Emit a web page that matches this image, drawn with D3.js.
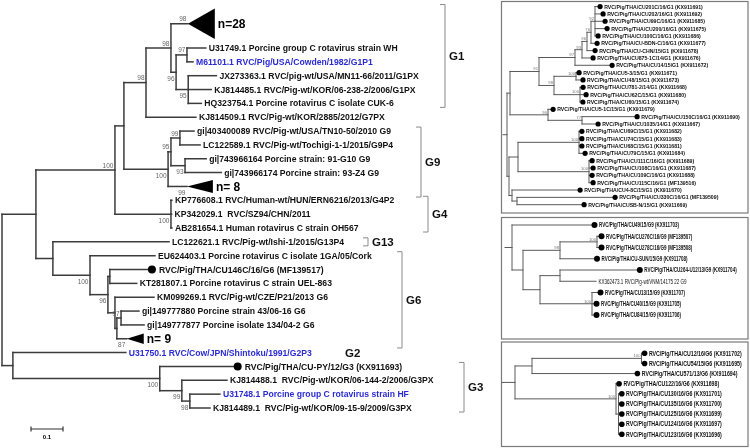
<!DOCTYPE html>
<html><head><meta charset="utf-8">
<script src="https://cdn.jsdelivr.net/npm/d3@7"></script>
<style>
body{margin:0;background:#fff}
svg{display:block;will-change:transform;opacity:0.999}
text{white-space:pre}
</style></head><body>
<svg id="c" width="750" height="448"></svg>
<script>
// ================= DATA =================
// Main tree: [node, parent, branch length (substitutions/site)]
const mainTree = [
["root","",0],
["a1","root",0.106],
["a2","a1",0.247],
["a3","a2",0.028],
["g1a","a3",0.069],
["g1b","g1a",0.078],
["c28","g1b",0.053],
["g1c","g1b",0.016],
["g1d","g1c",0.034],
["U31749","g1d",0.059],
["M61101","g1d",0.019],
["g1e","g1c",0.038],
["JX273363","g1e",0.088],
["KJ814485","g1e",0.072],
["HQ323754","g1e",0.041],
["KJ814509","g1a",0.156],
["g9a","a3",0.138],
["g9b","g9a",0.009],
["g9c","g9b",0.028],
["gi403400089","g9c",0.044],
["LC122589","g9c",0.063],
["g9d","g9b",0.044],
["gi743966164","g9d",0.066],
["gi743966174","g9d",0.113],
["c8","g9a",0.059],
["g4a","a2",0.175],
["KP776608","g4a",0.003],
["KP342029","g4a",0.002],
["AB281654","g4a",0.003],
["b1","a1",0.053],
["LC122621","b1",0.363],
["g6a","b1",0.116],
["EU624403","g6a",0.203],
["g6b","g6a",0.056],
["g6c","g6b",0.006],
["CU146C","g6c",0.119],
["KT281807","g6c",0.084],
["g6d","g6b",0.022],
["KM099269","g6d",0.122],
["g6e","g6d",0.006],
["g6f","g6e",0.013],
["gi149777880","g6f",0.056],
["gi149777877","g6f",0.072],
["c9","g6e",0.031],
["d1","root",0.034],
["U31750","d1",0.353],
["g3a","d1",0.459],
["CUPY","g3a",0.231],
["g3b","g3a",0.069],
["KJ814488","g3b",0.141],
["g3c","g3b",0.025],
["U31748","g3c",0.094],
["KJ814489","g3c",0.063]
];
const mainLeafOrder = ["c28","U31749","M61101","JX273363","KJ814485","HQ323754","KJ814509",
"gi403400089","LC122589","gi743966164","gi743966174","c8","KP776608","KP342029","AB281654",
"LC122621","EU624403","CU146C","KT281807","KM099269","gi149777880","gi149777877","c9",
"U31750","CUPY","KJ814488","U31748","KJ814489"];
const mainLeafSlots = [-1.75,0,1,2,3,4,5,6,7,8,9,10,11,12,13,14,15,16,17,18,19,20,21,22,23,24,25,26];
const mainLeafNames = [
["U31749","U31749.1 Porcine group C rotavirus strain WH"],
["M61101","M61101.1 RVC/Pig/USA/Cowden/1982/G1P1"],
["JX273363","JX273363.1 RVC/pig-wt/USA/MN11-66/2011/G1PX"],
["KJ814485","KJ814485.1 RVC/Pig-wt/KOR/06-238-2/2006/G1PX"],
["HQ323754","HQ323754.1 Porcine rotavirus C isolate CUK-6"],
["KJ814509","KJ814509.1 RVC/Pig-wt/KOR/2885/2012/G7PX"],
["gi403400089","gi|403400089 RVC/Pig-wt/USA/TN10-50/2010 G9"],
["LC122589","LC122589.1 RVC/Pig-wt/Tochigi-1-1/2015/G9P4"],
["gi743966164","gi|743966164 Porcine strain: 91-G10 G9"],
["gi743966174","gi|743966174 Porcine strain: 93-Z4 G9"],
["KP776608","KP776608.1 RVC/Human-wt/HUN/ERN6216/2013/G4P2"],
["KP342029","KP342029.1  RVC/SZ94/CHN/2011"],
["AB281654","AB281654.1 Human rotavirus C strain OH567"],
["LC122621","LC122621.1 RVC/Pig-wt/Ishi-1/2015/G13P4"],
["EU624403","EU624403.1 Porcine rotavirus C isolate 1GA/05/Cork"],
["CU146C","RVC/Pig/THA/CU146C/16/G6 (MF139517)"],
["KT281807","KT281807.1 Porcine rotavirus C strain UEL-863"],
["KM099269","KM099269.1 RVC/Pig-wt/CZE/P21/2013 G6"],
["gi149777880","gi|149777880 Porcine strain 43/06-16 G6"],
["gi149777877","gi|149777877 Porcine isolate 134/04-2 G6"],
["U31750","U31750.1 RVC/Cow/JPN/Shintoku/1991/G2P3"],
["CUPY","RVC/Pig/THA/CU-PY/12/G3 (KX911693)"],
["KJ814488","KJ814488.1  RVC/Pig-wt/KOR/06-144-2/2006/G3PX"],
["U31748","U31748.1 Porcine group C rotavirus strain HF"],
["KJ814489","KJ814489.1  RVC/Pig-wt/KOR/09-15-9/2009/G3PX"]
];
const mainReferenceStrains = ["M61101","U31750","U31748"];
const mainStudyStrains = ["CU146C","CUPY"];
// collapsed clades: [node, number of sequences, clade depth, span in rows]
const mainCollapsed = [["c28",28,0.084,2.2],["c8",8,0.081,0.95],["c9",9,0.053,0.75]];
const mainSupport = [["c28",98],["g1b",98],["g1a",98],["g1d",97],["g1c",96],["g1e",95],
["g9c",99],["g9b",95],["g9d",93],["g9a",100],["c8",99],["a2",100],["g4a",100],
["g6a",100],["g6b",96],["g6f",97],["c9",87],["g3a",100],["g3b",99],["g3c",98]];
const mainSupportBelow = ["g1c","g1e","g9d","g9a","c8","g4a","g6a","g6b","c9","g3a","g3b","g3c"];
// genotype groups: [name, first member, last member]
const genotypeGroups = [["G1","c28","HQ323754"],["G9","gi403400089","c8"],["G4","KP776608","AB281654"],
["G13","LC122621","LC122621"],["G6","EU624403","c9"],["G3","CUPY","KJ814489"]];
const scaleBarValue = 0.1;

// Panel 1 (G1 Thai strains)
const p1Tree = [
["r","",0],["x","r",0.003],["n91","x",0.029],["n97","n91",0.036],["n93","n97",0.007],
["n96","n93",0.005],["n76","n96",0.004],["n92","n76",0.004],
["CU201C","n92",0.0025],["CU202","n92",0.0055],["CU99C","n92",0.0075],["CU200","n92",0.0095],["CU100C","n92",0.0005],
["CUBDNC","n76",0.0035],["CUCHN","n96",0.0055],["CU875","n93",0.0085],["CU14","n97",0.0345],
["n98","n91",0.015],["n100a","n98",0.022],["CU53","n100a",0.0005],["CU48","n100a",0.0044],
["n100b","n98",0.026],["CU781","n100b",0.0005],["CU62C","n100b",0.0035],["CU60","n100b",0.0003],
["n90","x",0.038],["CU51C","n90",0.0025],["n77","n90",0.034],["CU150C","n77",0.0525],["CU1035","n77",0.0135],
["y","r",0.002],["c","y",0.009],["n100c","c",0.061],["CU69C","n100c",0.0003],["CU74C","n100c",0.0003],
["CU68C","n100c",0.0003],["CU79C","n100c",0.0035],["n100d","c",0.071],["CU111C","n100d",0.0005],
["CU108C","n100d",0.0015],["CU109C","n100d",0.0005],["CU115C","n100d",0.0015],
["s","y",0.003],["CU48C","s",0.0655],["n517","s",0.005],["CU330C","n517",0.0955],["CUSBN","n517",0.0645]
];
const p1LeafOrder = ["CU201C","CU202","CU99C","CU200","CU100C","CUBDNC","CUCHN","CU875","CU14","CU53","CU48",
"CU781","CU62C","CU60","CU51C","CU150C","CU1035","CU69C","CU74C","CU68C","CU79C","CU111C","CU108C","CU109C",
"CU115C","CU48C","CU330C","CUSBN"];
const p1LeafNames = [
"RVC/Pig/THA/CU201C/16/G1 (KX911691)","RVC/Pig/THA/CU202/16/G1 (KX911692)","RVC/Pig/THA/CU99C/16/G1 (KX911685)",
"RVC/Pig/THA/CU200/16/G1 (KX911675)","RVC/Pig/THA/CU100C/16/G1 (KX911686)","RVC/Pig/THA/CU-BDN-C/16/G1 (KX911677)",
"RVC/Pig/THA/CU-CHN/15/G1 (KX911678)","RVC/Pig/THA/CU875-1C/14/G1 (KX911676)","RVC/Pig/THA/CU14/15/G1 (KX911672)",
"RVC/Pig/THA/CU5-3/15/G1 (KX911671)","RVC/Pig/THA/CU48/15/G1 (KX911673)","RVC/Pig/THA/CU781-2/14/G1 (KX911668)",
"RVC/Pig/THA/CU62C/15/G1 (KX911680)","RVC/Pig/THA/CU60/15/G1 (KX911674)","RVC/Pig/THA/CU5-1C/15/G1 (KX911679)",
"RVC/Pig/THA/CU150C/16/G1 (KX911690)","RVC/Pig/THA/CU1035/14/G1 (KX911667)","RVC/Pig/THA/CU69C/15/G1 (KX911682)",
"RVC/Pig/THA/CU74C/15/G1 (KX911683)","RVC/Pig/THA/CU68C/15/G1 (KX911681)","RVC/Pig/THA/CU79C/15/G1 (KX911684)",
"RVC/Pig/THA/CU111C/16/G1 (KX911689)","RVC/Pig/THA/CU108C/16/G1 (KX911687)","RVC/Pig/THA/CU109C/16/G1 (KX911688)",
"RVC/Pig/THA/CU115C/16/G1 (MF139516)","RVC/Pig/THA/CU4-8C/15/G1 (KX911670)","RVC/Pig/THA/CU330C/16/G1 (MF139509)",
"RVC/Pig/THA/CUSB-N/15/G1 (KX911669)"];
const p1Support = [["n92",92],["n76",76],["n96",96],["n93",93],["n97",97],["n91",91],["n100a",100],["n98",98],
["n100b",100],["n90",90],["n77",77],["n100c",100],["n100d",100]];

// Panel 2 (G9 Thai strains)
const p2Tree = [
["r","",0],["CU49","r",0.0795],["n2a","r",0.011],["p","n2a",0.037],["n100e","p",0.037],
["CU276C","n100e",0.0015],["CU278C","n100e",0.0015],["CUSUN","p",0.034],["q","n2a",0.017],
["rr","q",0.020],["CU264","rr",0.0768],["KX362473","rr",0.036],["t","q",0.052],
["CU13","t",0.0055],["CU40","t",0.0015],["CU84","t",0.0015]
];
const p2LeafOrder = ["CU49","CU276C","CU278C","CUSUN","CU264","KX362473","CU13","CU40","CU84"];
const p2LeafNames = ["RVC/Pig/THA/CU49/15/G9 (KX911703)","RVC/Pig/THA/CU276C/16/G9 (MF139507)",
"RVC/Pig/THA/CU278C/16/G9 (MF139508)","RVC/Pig/THA/CU-SUN/15/G9 (KX911708)","RVC/Pig/THA/CU264-U12/13/G9 (KX911704)",
"KX362473.1 RVC/Pig-wt/VNM/14175 22 G9","RVC/Pig/THA/CU13/15/G9 (KX911707)","RVC/Pig/THA/CU40/15/G9 (KX911705)",
"RVC/Pig/THA/CU84/15/G9 (KX911706)"];
const p2Reference = ["KX362473"];
const p2Support = [["n100e",100],["p",98],["t",100]];

// Panel 3 (G6 Thai strains)
const p3Tree = [
["r","",0],["a","r",0.017],["n100f","a",0.1095],["CU12","n100f",0.0003],["CU54","n100f",0.0003],
["CU571","a",0.1026],["b","r",0.101],["CU122","b",0.0003],["cc","b",0.0025],
["CU130","cc",0.0005],["CU135","cc",0.0005],["CU125","cc",0.0005],["CU124","cc",0.0005],["CU123","cc",0.0005]
];
const p3LeafOrder = ["CU12","CU54","CU571","CU122","CU130","CU135","CU125","CU124","CU123"];
const p3LeafNames = ["RVC/Pig/THA/CU12/16/G6 (KX911702)","RVC/Pig/THA/CU54/15/G6 (KX911695)",
"RVC/Pig/THA/CU571/13/G6 (KX911694)","RVC/Pig/THA/CU122/16/G6 (KX911698)","RVC/Pig/THA/CU130/16/G6 (KX911701)",
"RVC/Pig/THA/CU135/16/G6 (KX911700)","RVC/Pig/THA/CU125/16/G6 (KX911699)","RVC/Pig/THA/CU124/16/G6 (KX911697)",
"RVC/Pig/THA/CU123/16/G6 (KX911696)"];
const p3Support = [["n100f",100],["b",100]];

// ================= DRAWING =================
const svg = d3.select("#c");
const FONT = "'Liberation Sans', Arial, sans-serif";

function layout(rows, leafOrder, slots, xScale, yScale){
  const root = d3.stratify().id(d=>d[0]).parentId(d=>d[1]===""?null:d[1])(rows);
  root.eachBefore(n=>{ n.len = n.parent ? n.parent.len + n.data[2] : 0; n.px = xScale(n.len); });
  const slot = new Map(leafOrder.map((id,i)=>[id, slots ? slots[i] : i]));
  root.eachAfter(n=>{
    if(!n.children) n.py = yScale(slot.get(n.id));
    else { const ys = n.children.map(c=>c.py); n.py = (d3.min(ys)+d3.max(ys))/2; }
  });
  return root;
}
function drawEdges(g, root, stroke, width, stubX){
  const segs = [];
  root.each(n=>{
    if(n.parent) segs.push([n.parent.px, n.py, n.px, n.py]);
    if(n.children){
      const ys = n.children.map(c=>c.py);
      segs.push([n.px, d3.min(ys), n.px, d3.max(ys)]);
    }
  });
  if(stubX!=null) segs.push([stubX, root.py, root.px, root.py]);
  g.selectAll("line.e").data(segs).join("line").attr("class","e")
    .attr("x1",d=>d[0]).attr("y1",d=>d[1]).attr("x2",d=>d[2]).attr("y2",d=>d[3])
    .attr("stroke",stroke).attr("stroke-width",width).attr("stroke-linecap","square");
}
function nodeMap(root){ const m=new Map(); root.each(n=>m.set(n.id,n)); return m; }

// ---------- main tree ----------
const xMain = d3.scaleLinear().domain([0,0.1]).range([2,34]);
const yMain = d3.scaleLinear().domain([0,26]).range([48,408]);
const rowH = yMain(1)-yMain(0);
const mRoot = layout(mainTree, mainLeafOrder, mainLeafSlots, xMain, yMain);
const mNodes = nodeMap(mRoot);
const gMain = svg.append("g");
drawEdges(gMain, mRoot, "#3c3c3c", 1.5, null);

// collapsed triangles
mainCollapsed.forEach(([id,n,depth,span])=>{
  const nd = mNodes.get(id);
  const x2 = xMain(nd.len+depth), h = span*rowH/2;
  gMain.append("path").attr("d",`M${nd.px},${nd.py}L${x2},${nd.py-h}L${x2},${nd.py+h}Z`).attr("fill","#000");
  gMain.append("text").attr("x",x2+3).attr("y",nd.py).attr("dy","0.36em")
    .attr("font-family",FONT).attr("font-weight",700).attr("font-size",12)
    .text("n="+String(n).padStart(2," "));
});
// leaves
mainLeafNames.forEach(([id,name])=>{
  const nd = mNodes.get(id);
  let tx = nd.px + 3;
  if(mainStudyStrains.includes(id)){
    gMain.append("circle").attr("cx",nd.px+4).attr("cy",nd.py).attr("r",4).attr("fill","#000");
    tx = nd.px + 11;
  }
  gMain.append("text").attr("x",tx).attr("y",nd.py).attr("dy","0.36em")
    .attr("font-family",FONT).attr("font-weight",700).attr("font-size",8.65)
    .attr("fill", mainReferenceStrains.includes(id) ? "#2b2bd4" : "#111").text(name);
});
// support values
mainSupport.forEach(([id,v])=>{
  const nd = mNodes.get(id);
  const below = mainSupportBelow.includes(id);
  gMain.append("text").attr("x",nd.px-1.5).attr("y",below? nd.py+8.5 : nd.py-2.5)
    .attr("text-anchor","end").attr("font-family",FONT).attr("font-size",6.5).attr("fill","#666").text(v);
});
// genotype brackets
const bracketX = {G1:445,G9:421,G4:428,G13:368,G6:402,G3:464};
function extent(id){
  const nd = mNodes.get(id);
  const c = mainCollapsed.find(d=>d[0]===id);
  const h = c ? c[3]*rowH/2 : 0;
  return [nd.py-h, nd.py+h];
}
genotypeGroups.forEach(([name,a,b])=>{
  const top = extent(a)[0]-4, bot = extent(b)[1]+4, x = bracketX[name];
  gMain.append("path").attr("d",`M${x-5},${top}H${x}V${bot}H${x-5}`).attr("fill","none")
    .attr("stroke","#8a8a8a").attr("stroke-width",1);
  gMain.append("text").attr("x",x+4).attr("y",(top+bot)/2).attr("dy","0.36em")
    .attr("font-family",FONT).attr("font-weight",700).attr("font-size",11.5)
    .attr("fill","#111").text(name);
});
// G2 (single strain, no bracket)
gMain.append("text").attr("x",345).attr("y",mNodes.get("U31750").py).attr("dy","0.36em")
  .attr("font-family",FONT).attr("font-weight",700).attr("font-size",11.5)
  .attr("fill","#111").text("G2");
// scale bar
const sbX0 = 31, sbX1 = sbX0 + (xMain(scaleBarValue)-xMain(0)), sbY = 429;
gMain.append("path").attr("d",`M${sbX0},${sbY-2.5}V${sbY+2.5}M${sbX0},${sbY}H${sbX1}M${sbX1},${sbY-2.5}V${sbY+2.5}`)
  .attr("stroke","#333").attr("stroke-width",1.2).attr("fill","none");
gMain.append("text").attr("x",(sbX0+sbX1)/2).attr("y",sbY+9.5).attr("text-anchor","middle")
  .attr("font-family",FONT).attr("font-weight",700).attr("font-size",6).text(String(scaleBarValue));

// ---------- right panels ----------
function panel(cfg){
  const g = svg.append("g");
  g.append("rect").attr("x",cfg.box[0]).attr("y",cfg.box[1]).attr("width",cfg.box[2]).attr("height",cfg.box[3])
    .attr("fill","none").attr("stroke","#7a7a7a").attr("stroke-width",1.2);
  const x = d3.scaleLinear().domain([0,0.1]).range([cfg.x0, cfg.x0+100]);
  const y = d3.scaleLinear().domain([0,cfg.order.length-1]).range(cfg.yr);
  const root = layout(cfg.tree, cfg.order, null, x, y);
  const m = nodeMap(root);
  drawEdges(g, root, "#5a5a5a", 1, cfg.stub);
  cfg.order.forEach((id,i)=>{
    const nd = m.get(id);
    const plain = (cfg.plain||[]).includes(id);
    let tx = nd.px + 2.5;
    if(!plain){
      g.append("circle").attr("cx",nd.px+cfg.r).attr("cy",nd.py).attr("r",cfg.r).attr("fill","#000");
      tx = nd.px + 2*cfg.r + 1.5;
    }
    g.append("text").attr("transform",`translate(${tx},${nd.py}) scale(${cfg.sx},1)`).attr("dy","0.36em")
      .attr("font-family",FONT).attr("font-weight",plain?400:700).attr("font-size",cfg.fs)
      .attr("fill","#111").text(cfg.names[i]);
  });
  cfg.support.forEach(([id,v])=>{
    const nd = m.get(id);
    g.append("text").attr("x",nd.px-1).attr("y",nd.py-1.2).attr("text-anchor","end")
      .attr("font-family",FONT).attr("font-size",4.2).attr("fill","#777").text(v);
  });
}
panel({box:[501.5,1.5,246.5,211.5], x0:507, stub:503, yr:[6.6,204.7], tree:p1Tree, order:p1LeafOrder,
  names:p1LeafNames, support:p1Support, r:2.6, fs:5.6, sx:0.93});
panel({box:[501.5,217.5,246.5,121.5], x0:512, stub:505, yr:[225,315], tree:p2Tree, order:p2LeafOrder,
  names:p2LeafNames, support:p2Support, r:3, fs:6.3, sx:0.72, plain:p2Reference});
panel({box:[501.5,342,246.5,104.5], x0:515, stub:502, yr:[353.3,434.3], tree:p3Tree, order:p3LeafOrder,
  names:p3LeafNames, support:p3Support, r:2.8, fs:6.4, sx:0.82});
</script>
</body></html>
